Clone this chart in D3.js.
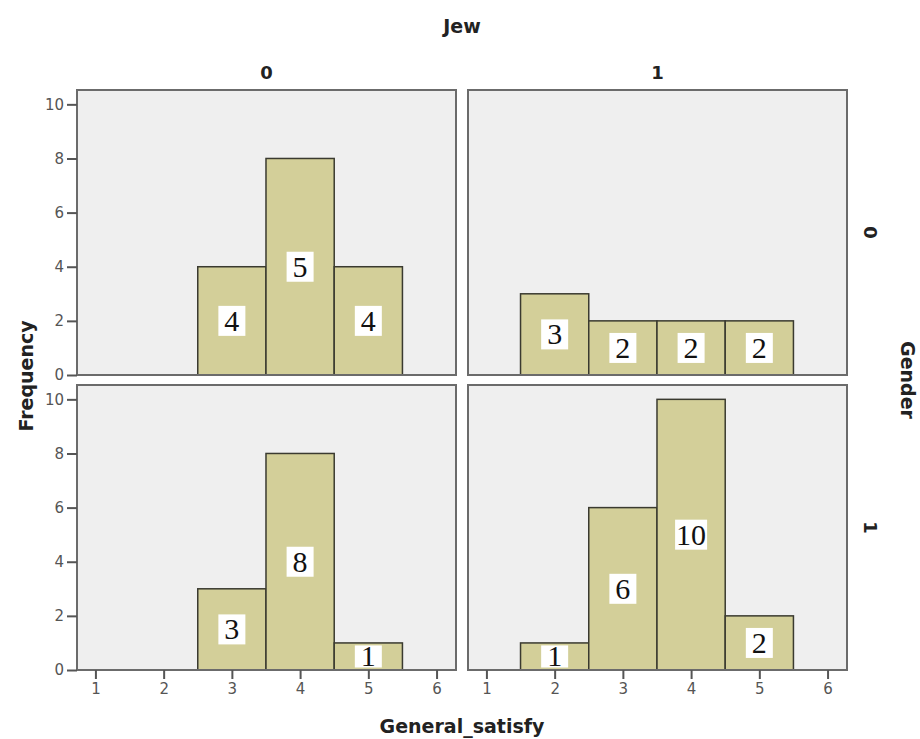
<!DOCTYPE html>
<html>
<head>
<meta charset="utf-8">
<script src="https://cdn.jsdelivr.net/npm/d3@7"></script>
<style>
  html, body { margin: 0; padding: 0; background: #ffffff; }
  svg { display: block; }
</style>
</head>
<body>
<svg id="chart" width="920" height="739"></svg>
<script>
// Histogram of General_satisfy, panelled by Jew (columns) and Gender (rows)
const satisfyValues = [1, 2, 3, 4, 5, 6];           // x-axis tick labels
const frequencyTicks = [0, 2, 4, 6, 8, 10];         // y-axis tick labels
const jewLevels = ["0", "1"];                        // column facets
const genderLevels = ["0", "1"];                     // row facets

// Frequencies per General_satisfy score (score -> count), one list per panel
const countsG0J0 = [{ score: 3, count: 4 }, { score: 4, count: 8 }, { score: 5, count: 4 }];
const countsG0J1 = [{ score: 2, count: 3 }, { score: 3, count: 2 }, { score: 4, count: 2 }, { score: 5, count: 2 }];
const countsG1J0 = [{ score: 3, count: 3 }, { score: 4, count: 8 }, { score: 5, count: 1 }];
const countsG1J1 = [{ score: 2, count: 1 }, { score: 3, count: 6 }, { score: 4, count: 10 }, { score: 5, count: 2 }];

// Text written on the white tags inside each bar
const tagsG0J0 = ["4", "5", "4"];
const tagsG0J1 = ["3", "2", "2", "2"];
const tagsG1J0 = ["3", "8", "1"];
const tagsG1J1 = ["1", "6", "10", "2"];

const panels = [
  { row: 0, col: 0, data: countsG0J0, tags: tagsG0J0 },
  { row: 0, col: 1, data: countsG0J1, tags: tagsG0J1 },
  { row: 1, col: 0, data: countsG1J0, tags: tagsG1J0 },
  { row: 1, col: 1, data: countsG1J1, tags: tagsG1J1 }
];

const svg = d3.select("#chart");
const panelW = 379, panelH = 285;
const colX = [77, 468];
const rowY = [90, 385];

const x = d3.scaleLinear().domain([0.73, 6.285]).range([0, panelW]);
const y = d3.scaleLinear().domain([0, 10.53]).range([panelH, 0]);

const sans = "'DejaVu Sans', Verdana, sans-serif";
const serif = "'Liberation Serif', 'Times New Roman', serif";

panels.forEach(p => {
  const g = svg.append("g").attr("transform", `translate(${colX[p.col]},${rowY[p.row]})`);

  // panel background
  g.append("rect")
    .attr("x", 0).attr("y", 0).attr("width", panelW).attr("height", panelH)
    .attr("fill", "#efefef");

  // bars
  g.selectAll("rect.bar").data(p.data).enter().append("rect")
    .attr("class", "bar")
    .attr("x", d => x(d.score - 0.5))
    .attr("width", d => x(d.score + 0.5) - x(d.score - 0.5))
    .attr("y", d => y(d.count))
    .attr("height", d => y(0) - y(d.count))
    .attr("fill", "#d3cf99")
    .attr("stroke", "#3a3a30")
    .attr("stroke-width", 1.5);

  // white value tags at mid-height of each bar
  const tag = g.selectAll("g.tag").data(p.data).enter().append("g")
    .attr("class", "tag")
    .attr("transform", d => `translate(${x(d.score)},${y(d.count / 2)})`);
  tag.append("rect")
    .attr("x", (d, i) => -(p.tags[i].length > 1 ? 16 : 13.5))
    .attr("width", (d, i) => p.tags[i].length > 1 ? 32 : 27)
    .attr("y", d => -Math.min(15, (y(0) - y(d.count)) / 2 - 2.5))
    .attr("height", d => 2 * Math.min(15, (y(0) - y(d.count)) / 2 - 2.5))
    .attr("fill", "#ffffff");
  tag.append("text")
    .attr("text-anchor", "middle")
    .attr("y", 10)
    .attr("font-family", serif)
    .attr("font-size", 30)
    .attr("fill", "#111111")
    .text((d, i) => p.tags[i]);

  // panel frame
  g.append("rect")
    .attr("x", 0).attr("y", 0).attr("width", panelW).attr("height", panelH)
    .attr("fill", "none")
    .attr("stroke", "#6b6b6b")
    .attr("stroke-width", 2);

  // y axis on the left column
  if (p.col === 0) {
    const ya = g.append("g").call(d3.axisLeft(y).tickValues(frequencyTicks).tickSize(10).tickPadding(3));
    ya.select(".domain").remove();
    ya.selectAll("line").attr("stroke", "#555").attr("stroke-width", 2);
    ya.selectAll("text").attr("font-family", sans).attr("font-size", 15).attr("fill", "#555");
  }
  // x axis on the bottom row
  if (p.row === 1) {
    const xa = g.append("g").attr("transform", `translate(0,${panelH})`)
      .call(d3.axisBottom(x).tickValues(satisfyValues).tickSize(9).tickPadding(4).tickFormat(d3.format("d")));
    xa.select(".domain").remove();
    xa.selectAll("line").attr("stroke", "#555").attr("stroke-width", 2);
    xa.selectAll("text").attr("font-family", sans).attr("font-size", 15).attr("fill", "#555");
  }
});

// facet strip labels
svg.selectAll("text.colLab").data(jewLevels).enter().append("text")
  .attr("class", "colLab")
  .attr("x", (d, i) => colX[i] + panelW / 2)
  .attr("y", 79)
  .attr("text-anchor", "middle")
  .attr("font-family", sans).attr("font-weight", "bold").attr("font-size", 18)
  .attr("fill", "#222")
  .text(d => d);

svg.selectAll("text.rowLab").data(genderLevels).enter().append("text")
  .attr("class", "rowLab")
  .attr("transform", (d, i) => `translate(864,${rowY[i] + panelH / 2}) rotate(90)`)
  .attr("text-anchor", "middle")
  .attr("font-family", sans).attr("font-weight", "bold").attr("font-size", 18)
  .attr("fill", "#222")
  .text(d => d);

// titles
svg.append("text")
  .attr("x", 462).attr("y", 33)
  .attr("text-anchor", "middle")
  .attr("font-family", sans).attr("font-weight", "bold").attr("font-size", 19)
  .attr("fill", "#222")
  .text("Jew");

svg.append("text")
  .attr("x", 462).attr("y", 733)
  .attr("text-anchor", "middle")
  .attr("font-family", sans).attr("font-weight", "bold").attr("font-size", 19)
  .attr("fill", "#222")
  .text("General_satisfy");

svg.append("text")
  .attr("transform", "translate(33,376) rotate(-90)")
  .attr("text-anchor", "middle")
  .attr("font-family", sans).attr("font-weight", "bold").attr("font-size", 19)
  .attr("fill", "#222")
  .text("Frequency");

svg.append("text")
  .attr("transform", "translate(901,380) rotate(90)")
  .attr("text-anchor", "middle")
  .attr("font-family", sans).attr("font-weight", "bold").attr("font-size", 19)
  .attr("fill", "#222")
  .text("Gender");
</script>
</body>
</html>
